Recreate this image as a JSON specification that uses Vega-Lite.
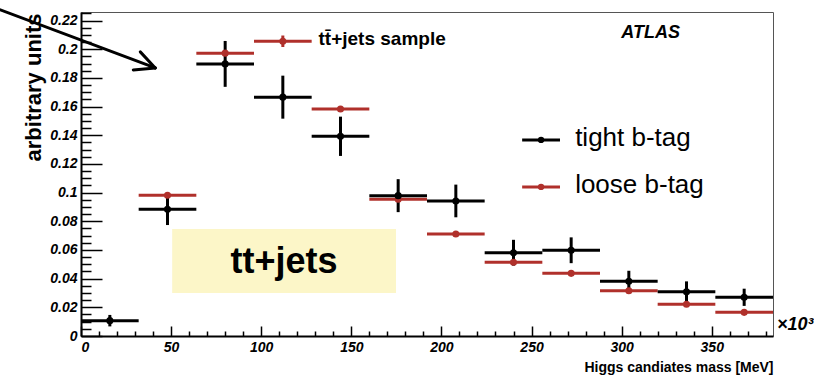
{
  "$schema": "https://vega.github.io/schema/vega-lite/v6.json",
  "width": 692,
  "height": 324,
  "autosize": {"type": "none"},
  "padding": {"left": 81, "top": 12, "right": 41, "bottom": 39},
  "config": {"view": {"stroke": "#555", "strokeWidth": 1}, "font": "Liberation Sans"},
  "datasets": {
    "hist": [
      {"series": "loose", "x": 48, "xlo": 32, "xhi": 64, "y": 0.0982, "ylo": 0.0967, "yhi": 0.0997},
      {"series": "loose", "x": 80, "xlo": 64, "xhi": 96, "y": 0.1973, "ylo": 0.1958, "yhi": 0.1988},
      {"series": "loose", "x": 112, "xlo": 96, "xhi": 128, "y": 0.2056, "ylo": 0.2016, "yhi": 0.2096},
      {"series": "loose", "x": 144, "xlo": 128, "xhi": 160, "y": 0.1584, "ylo": 0.1564, "yhi": 0.1604},
      {"series": "loose", "x": 176, "xlo": 160, "xhi": 192, "y": 0.0954, "ylo": 0.0939, "yhi": 0.0969},
      {"series": "loose", "x": 208, "xlo": 192, "xhi": 224, "y": 0.0712, "ylo": 0.0702, "yhi": 0.0722},
      {"series": "loose", "x": 240, "xlo": 224, "xhi": 256, "y": 0.0514, "ylo": 0.0504, "yhi": 0.0524},
      {"series": "loose", "x": 272, "xlo": 256, "xhi": 288, "y": 0.0437, "ylo": 0.0427, "yhi": 0.0447},
      {"series": "loose", "x": 304, "xlo": 288, "xhi": 320, "y": 0.0316, "ylo": 0.0306, "yhi": 0.0326},
      {"series": "loose", "x": 336, "xlo": 320, "xhi": 352, "y": 0.0221, "ylo": 0.0211, "yhi": 0.0231},
      {"series": "loose", "x": 368, "xlo": 352, "xhi": 384, "y": 0.0165, "ylo": 0.0155, "yhi": 0.0175},
      {"series": "tight", "x": 16, "xlo": 0, "xhi": 32, "y": 0.0107, "ylo": 0.0067, "yhi": 0.0147},
      {"series": "tight", "x": 48, "xlo": 32, "xhi": 64, "y": 0.0884, "ylo": 0.0774, "yhi": 0.0994},
      {"series": "tight", "x": 80, "xlo": 64, "xhi": 96, "y": 0.1898, "ylo": 0.1738, "yhi": 0.2058},
      {"series": "tight", "x": 112, "xlo": 96, "xhi": 128, "y": 0.1666, "ylo": 0.1516, "yhi": 0.1816},
      {"series": "tight", "x": 144, "xlo": 128, "xhi": 160, "y": 0.1393, "ylo": 0.1256, "yhi": 0.153},
      {"series": "tight", "x": 176, "xlo": 160, "xhi": 192, "y": 0.0979, "ylo": 0.0864, "yhi": 0.1094},
      {"series": "tight", "x": 208, "xlo": 192, "xhi": 224, "y": 0.0942, "ylo": 0.0828, "yhi": 0.1056},
      {"series": "tight", "x": 240, "xlo": 224, "xhi": 256, "y": 0.0581, "ylo": 0.0491, "yhi": 0.0671},
      {"series": "tight", "x": 272, "xlo": 256, "xhi": 288, "y": 0.0598, "ylo": 0.0508, "yhi": 0.0688},
      {"series": "tight", "x": 304, "xlo": 288, "xhi": 320, "y": 0.0382, "ylo": 0.0309, "yhi": 0.0455},
      {"series": "tight", "x": 336, "xlo": 320, "xhi": 352, "y": 0.0309, "ylo": 0.0237, "yhi": 0.0381},
      {"series": "tight", "x": 368, "xlo": 352, "xhi": 384, "y": 0.027, "ylo": 0.021, "yhi": 0.033}
    ],
    "arrow": [
      {"x": -44.8, "y": 0.2275, "x2": 41.2, "y2": 0.187},
      {"x": 29.0, "y": 0.1856, "x2": 41.2, "y2": 0.187},
      {"x": 32.9, "y": 0.1982, "x2": 41.2, "y2": 0.187}
    ],
    "legend": [
      {"series": "tight", "label": "tight b-tag", "x1": 244.8, "x2": 265.8, "xm": 255.3, "tx": 274.2, "y": 0.1368},
      {"series": "loose", "label": "loose b-tag", "x1": 244.8, "x2": 265.8, "xm": 255.3, "tx": 274.2, "y": 0.104}
    ],
    "box": [{"x": 50.6, "x2": 174.8, "y": 0.030, "y2": 0.0747, "xc": 112.7, "yc": 0.0516, "label": "tt+jets"}],
    "sample": [{"label": "tt̄+jets sample", "x": 131.8, "y": 0.2075}],
    "atlas": [{"label": "ATLAS", "x": 316.1, "y": 0.2114}],
    "expo": [{"label": "×10³", "x": 386.2, "y": 0.0077}]
  },
  "layer": [
    {
      "data": {"name": "box"},
      "mark": {"type": "rect", "fill": "#fcf6c8"},
      "encoding": {
        "x": {"field": "x", "type": "quantitative", "scale": {"domain": [0, 384], "nice": false, "zero": false}, "axis": null},
        "x2": {"field": "x2"},
        "y": {"field": "y", "type": "quantitative", "scale": {"domain": [0, 0.226], "nice": false, "zero": false}, "axis": null},
        "y2": {"field": "y2"}
      }
    },
    {
      "data": {"name": "box"},
      "mark": {"type": "text", "fontSize": 36, "fontWeight": "bold", "align": "center", "baseline": "middle", "color": "black"},
      "encoding": {
        "x": {"field": "xc", "type": "quantitative", "axis": null},
        "y": {"field": "yc", "type": "quantitative", "axis": null},
        "text": {"field": "label"}
      }
    },
    {
      "data": {"name": "hist"},
      "mark": {"type": "rule", "strokeWidth": 3},
      "encoding": {
        "x": {"field": "xlo", "type": "quantitative", "scale": {"domain": [0, 384], "nice": false, "zero": false},
          "axis": {"title": "Higgs candiates mass [MeV]", "values": [0, 50, 100, 150, 200, 250, 300, 350], "tickSize": -10, "tickWidth": 1.5, "tickColor": "black", "domainColor": "black", "domainWidth": 2, "labelFontWeight": "bold", "labelFontStyle": "italic", "labelFontSize": 14, "labelColor": "black", "labelPadding": 14, "grid": false, "titleFontSize": 14, "titleFontWeight": "bold", "titleColor": "black", "titleX": 692, "titleY": 31, "titleAlign": "right", "titleBaseline": "middle", "orient": "bottom"}},
        "x2": {"field": "xhi"},
        "y": {"field": "y", "type": "quantitative", "scale": {"domain": [0, 0.226], "nice": false, "zero": false},
          "axis": {"title": "arbitrary units", "values": [0, 0.02, 0.04, 0.06, 0.08, 0.1, 0.12, 0.14, 0.16, 0.18, 0.2, 0.22], "format": "~g", "tickSize": -21, "tickWidth": 1.5, "tickColor": "black", "domainColor": "black", "domainWidth": 2, "labelFontWeight": "bold", "labelFontStyle": "italic", "labelFontSize": 14, "labelColor": "black", "labelPadding": 25, "grid": false, "titleFontSize": 22, "titleFontWeight": "bold", "titleColor": "black", "titleAngle": -90, "titleX": -48, "titleY": 1, "titleAlign": "right", "titleBaseline": "middle", "orient": "left"}},
        "color": {"field": "series", "type": "nominal", "scale": {"domain": ["loose", "tight"], "range": ["#b0302b", "#000000"]}, "legend": null}
      }
    },
    {
      "data": {"name": "hist"},
      "mark": {"type": "rule", "strokeWidth": 3},
      "encoding": {
        "x": {"field": "x", "type": "quantitative", "axis": null},
        "y": {"field": "ylo", "type": "quantitative", "axis": null},
        "y2": {"field": "yhi"},
        "color": {"field": "series", "type": "nominal", "legend": null}
      }
    },
    {
      "data": {"name": "hist"},
      "mark": {"type": "point", "shape": "circle", "filled": true, "size": 50, "opacity": 1},
      "encoding": {
        "x": {"field": "x", "type": "quantitative",
          "axis": {"title": null, "labels": false, "domain": false, "grid": false, "orient": "bottom", "tickSize": -5, "tickWidth": 1.5, "tickColor": "black", "values": [10, 20, 30, 40, 60, 70, 80, 90, 110, 120, 130, 140, 160, 170, 180, 190, 210, 220, 230, 240, 260, 270, 280, 290, 310, 320, 330, 340, 360, 370, 380]}},
        "y": {"field": "y", "type": "quantitative",
          "axis": {"title": null, "labels": false, "domain": false, "grid": false, "orient": "left", "tickSize": -10, "tickWidth": 1.5, "tickColor": "black", "values": [0.005, 0.01, 0.015, 0.025, 0.03, 0.035, 0.045, 0.05, 0.055, 0.065, 0.07, 0.075, 0.085, 0.09, 0.095, 0.105, 0.11, 0.115, 0.125, 0.13, 0.135, 0.145, 0.15, 0.155, 0.165, 0.17, 0.175, 0.185, 0.19, 0.195, 0.205, 0.21, 0.215, 0.225]}},
        "color": {"field": "series", "type": "nominal", "legend": null}
      }
    },
    {
      "data": {"name": "arrow"},
      "mark": {"type": "rule", "strokeWidth": 3, "color": "black", "strokeCap": "round"},
      "encoding": {
        "x": {"field": "x", "type": "quantitative", "axis": null},
        "y": {"field": "y", "type": "quantitative", "axis": null},
        "x2": {"field": "x2"},
        "y2": {"field": "y2"}
      }
    },
    {
      "data": {"name": "legend"},
      "mark": {"type": "rule", "strokeWidth": 3},
      "encoding": {
        "x": {"field": "x1", "type": "quantitative", "axis": null},
        "x2": {"field": "x2"},
        "y": {"field": "y", "type": "quantitative", "axis": null},
        "color": {"field": "series", "type": "nominal", "legend": null}
      }
    },
    {
      "data": {"name": "legend"},
      "mark": {"type": "point", "shape": "circle", "filled": true, "size": 40, "opacity": 1},
      "encoding": {
        "x": {"field": "xm", "type": "quantitative", "axis": null},
        "y": {"field": "y", "type": "quantitative", "axis": null},
        "color": {"field": "series", "type": "nominal", "legend": null}
      }
    },
    {
      "data": {"name": "legend"},
      "mark": {"type": "text", "fontSize": 26, "align": "left", "baseline": "middle", "color": "black", "dy": -2},
      "encoding": {
        "x": {"field": "tx", "type": "quantitative", "axis": null},
        "y": {"field": "y", "type": "quantitative", "axis": null},
        "text": {"field": "label"}
      }
    },
    {
      "data": {"name": "sample"},
      "mark": {"type": "text", "fontSize": 19, "fontWeight": "bold", "align": "left", "baseline": "middle", "color": "black"},
      "encoding": {
        "x": {"field": "x", "type": "quantitative", "axis": null},
        "y": {"field": "y", "type": "quantitative", "axis": null},
        "text": {"field": "label"}
      }
    },
    {
      "data": {"name": "atlas"},
      "mark": {"type": "text", "fontSize": 18, "fontWeight": "bold", "fontStyle": "italic", "align": "center", "baseline": "middle", "color": "black"},
      "encoding": {
        "x": {"field": "x", "type": "quantitative", "axis": null},
        "y": {"field": "y", "type": "quantitative", "axis": null},
        "text": {"field": "label"}
      }
    },
    {
      "data": {"name": "expo"},
      "mark": {"type": "text", "fontSize": 18, "fontWeight": "bold", "fontStyle": "italic", "align": "left", "baseline": "middle", "color": "black"},
      "encoding": {
        "x": {"field": "x", "type": "quantitative", "axis": null},
        "y": {"field": "y", "type": "quantitative", "axis": null},
        "text": {"field": "label"}
      }
    }
  ],
  "resolve": {"axis": {"x": "independent", "y": "independent"}}
}
